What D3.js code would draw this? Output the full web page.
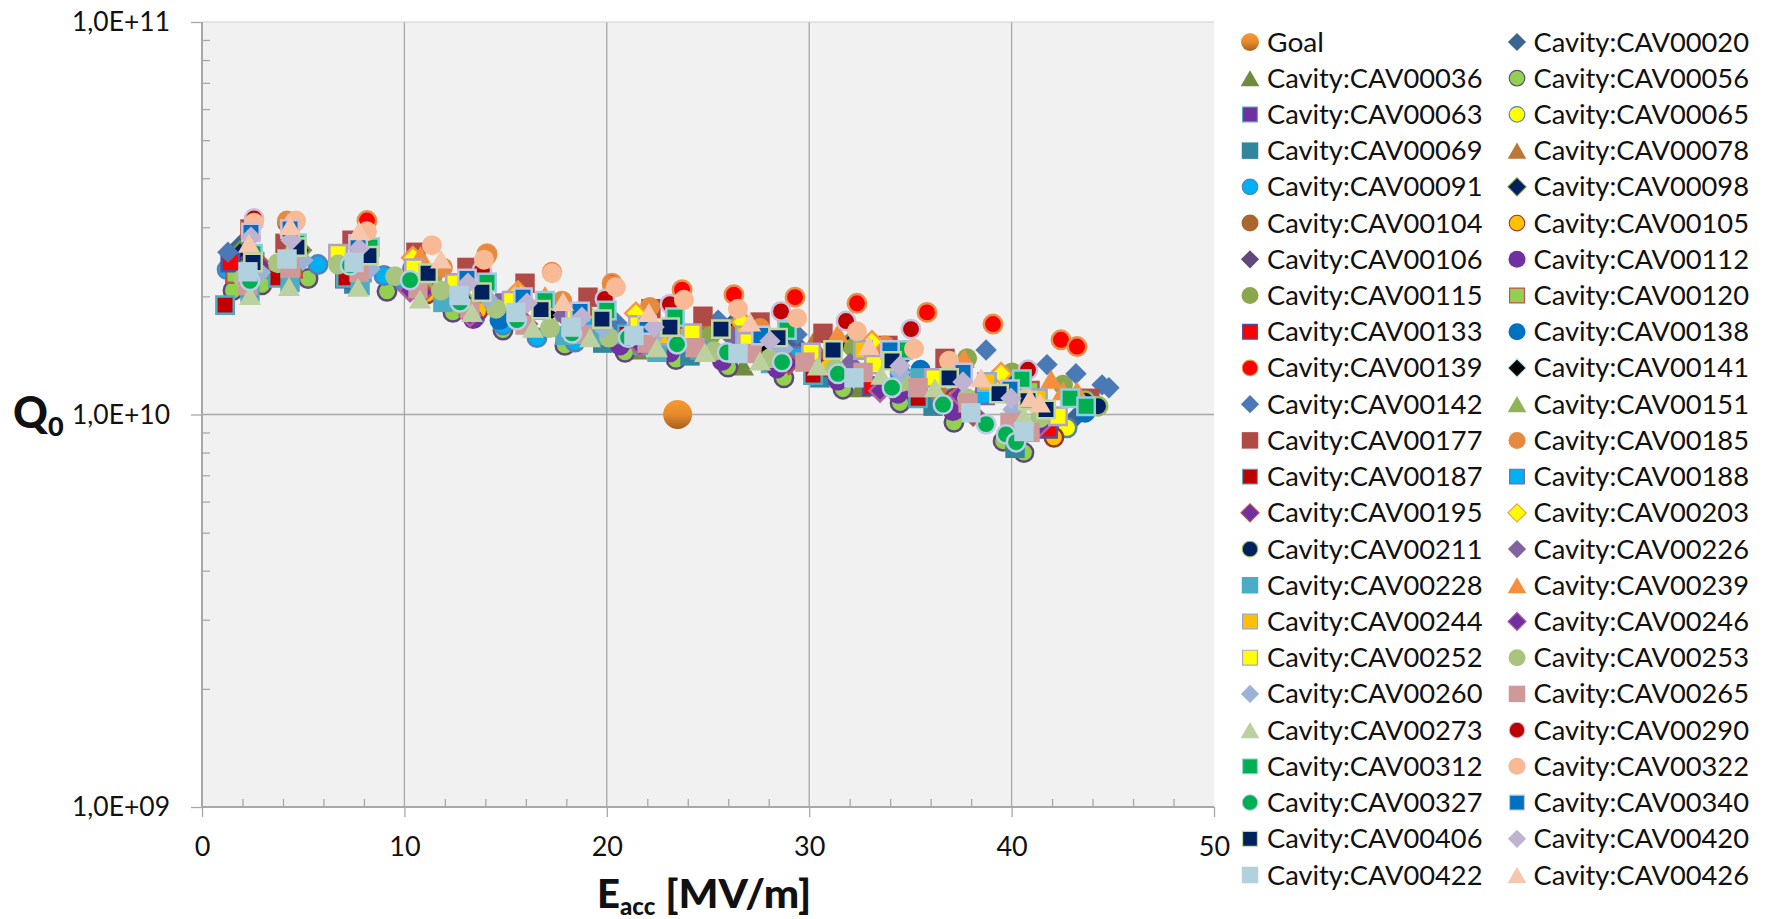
<!DOCTYPE html>
<html><head><meta charset="utf-8">
<script src="https://cdn.jsdelivr.net/npm/d3@7/dist/d3.min.js"></script>
<style>html,body{margin:0;padding:0;background:#fff}svg{display:block}text{font-family:Lato,"Open Sans",sans-serif;fill:#111}</style>
</head><body><svg id="c" width="1765" height="919"></svg>
<script>
// x = Eacc [MV/m], y = Q0 in units of 1e10
const Goal=[[23.5,1.0]];
const CAV00020=[[1.88,2.7],[20.31,1.74],[26.2,1.7],[29.3,1.52],[34.6,1.4],[43.13,0.98]];
const CAV00036=[[2.2,2.6],[3.21,2.33],[12.9,1.95],[21.49,1.46],[26.73,1.33],[32.51,1.17],[40.3,1.05]];
const CAV00056=[[1.53,2.07],[2.96,2.14],[5.24,2.22],[9.14,2.06],[12.4,1.82],[14.87,1.64],[17.93,1.5],[20.9,1.44],[23.42,1.38],[25.99,1.32],[28.75,1.24],[31.67,1.16],[34.49,1.07],[37.15,0.955],[39.58,0.855],[40.61,0.8]];
const CAV00063=[[2.6,2.45],[7.9,2.3],[15.2,1.75],[21.8,1.5],[28.1,1.35],[36.9,1.1]];
const CAV00065=[[10.4,2.35],[19.3,1.7],[30.9,1.33],[42.74,0.925]];
const CAV00069=[[7.5,2.15],[19.8,1.52],[24.11,1.41],[30.53,1.24],[36.12,1.05],[40.17,0.82]];
const CAV00078=[[2.5,2.62],[13.6,2.0],[24.9,1.72],[30.19,1.53],[36.56,1.15]];
const CAV00091=[[1.24,2.34],[5.73,2.41],[8.99,2.26],[10.03,2.16],[13.49,1.77],[14.87,1.69],[16.55,1.57],[18.43,1.53],[34.49,1.27]];
const CAV00098=[[1.88,2.59],[4.84,2.62],[16.9,1.85],[26.18,1.64],[31.97,1.51]];
const CAV00104=[[4.2,3.08],[18.9,1.8],[26.4,1.6],[31.0,1.4],[33.7,1.45]];
const CAV00105=[[11.12,2.03],[13.64,1.84],[30.93,1.32],[37.2,1.1],[42.09,0.875]];
const CAV00106=[[2.4,2.5],[10.4,2.2],[21.4,1.65],[28.3,1.5],[33.5,1.4]];
const CAV00112=[[10.7,2.07],[13.4,1.75],[20.65,1.5],[23.12,1.44],[25.69,1.37],[28.41,1.31],[31.42,1.22],[34.39,1.13],[37.1,1.02]];
const CAV00115=[[8.0,2.45],[11.4,2.25],[17.3,1.8],[25.1,1.58],[32.2,1.48],[37.8,1.39],[40.02,1.28],[42.54,1.19]];
const CAV00120=[[1.63,2.28],[4.5,2.35],[11.0,2.15],[24.0,1.58],[40.9,1.15]];
const CAV00133=[[1.4,2.44],[7.07,2.22],[19.2,1.65],[33.1,1.18],[41.8,0.92]];
const CAV00138=[[14.7,1.74],[27.9,1.55],[35.5,1.3],[39.92,1.19],[43.63,1.01]];
const CAV00139=[[8.15,3.12],[14.08,2.57],[20.26,2.16],[23.72,2.08],[26.28,2.02],[29.3,1.99],[32.36,1.92],[35.82,1.82],[39.08,1.7],[42.44,1.55],[43.23,1.49]];
const CAV00141=[[4.3,2.65],[17.1,1.8],[27.9,1.45],[33.4,1.4]];
const CAV00142=[[1.28,2.59],[20.5,1.71],[25.5,1.74],[29.4,1.6],[38.74,1.46],[41.75,1.34],[43.18,1.27],[44.47,1.19],[44.81,1.17]];
const CAV00151=[[3.11,2.35],[11.0,2.19],[16.7,1.84],[28.9,1.46],[38.3,1.12]];
const CAV00177=[[2.37,2.97],[4.1,2.73],[7.41,2.78],[10.57,2.59],[13.09,2.37],[15.96,2.16],[19.07,1.99],[22.18,1.86],[24.75,1.78],[27.57,1.72],[30.68,1.61],[33.89,1.5],[36.71,1.39],[43.87,1.1]];
const CAV00185=[[4.2,3.12],[11.9,2.37],[14.08,2.54],[17.29,2.31],[17.79,1.95],[20.26,2.13],[22.13,1.88],[27.57,1.66],[33.74,1.5]];
const CAV00187=[[1.14,1.9],[3.75,2.23],[7.11,2.23],[21.0,1.6],[30.19,1.26],[35.38,1.1]];
const CAV00188=[[12.5,2.16],[14.97,1.92],[18.9,1.69],[29.45,1.41],[38.69,1.12]];
const CAV00195=[[2.9,2.4],[10.9,2.05],[16.0,1.7],[22.9,1.55],[29.0,1.35],[38.1,1.0]];
const CAV00203=[[10.42,2.51],[15.61,2.05],[21.44,1.81],[26.68,1.72],[33.1,1.53],[39.48,1.27]];
const CAV00211=[[4.6,2.6],[12.9,1.95],[22.6,1.55],[37.45,1.3],[43.63,1.085],[44.27,1.05]];
const CAV00226=[[11.9,2.05],[14.7,1.9],[17.84,1.79],[26.23,1.56],[32.02,1.35]];
const CAV00228=[[2.37,2.05],[4.35,2.17],[7.81,2.13],[11.9,1.93],[17.93,1.59],[19.76,1.59],[22.48,1.44],[24.6,1.46],[35.47,1.24]];
const CAV00239=[[10.8,2.54],[15.6,2.05],[16.95,2.01],[31.42,1.61],[37.65,1.39],[41.95,1.23],[42.54,1.15],[43.23,1.15]];
const CAV00244=[[22.6,1.59],[26.83,1.59],[32.66,1.46],[38.78,1.21],[41.3,1.1]];
const CAV00246=[[10.28,2.07],[13.24,1.79],[21.64,1.5],[24.6,1.46],[33.5,1.15],[37.45,1.12],[41.4,0.94]];
const CAV00252=[[6.72,2.57],[10.47,2.36],[12.5,2.16],[15.3,1.95],[18.43,1.79],[21.54,1.69],[24.21,1.61],[26.98,1.53],[30.09,1.44],[33.2,1.34],[36.17,1.24],[42.29,0.99]];
const CAV00253=[[2.03,2.22],[3.75,2.43],[6.72,2.41],[9.54,2.25],[11.81,2.07],[14.53,1.86],[17.19,1.66],[20.11,1.57],[25.3,1.45],[28.06,1.39],[31.27,1.31],[34.58,1.21],[37.8,1.1],[41.4,0.98]];
const CAV00260=[[2.87,2.3],[4.99,2.47],[8.3,2.35],[14.08,1.98],[19.81,1.66],[22.38,1.59],[28.71,1.47],[34.49,1.28],[40.07,1.03]];
const CAV00265=[[2.27,2.13],[4.35,2.36],[7.76,2.3],[10.67,2.09],[13.24,1.86],[15.96,1.69],[18.82,1.6],[21.99,1.52],[24.36,1.48],[27.17,1.43],[29.79,1.36],[32.66,1.28],[35.38,1.17],[37.85,1.07],[39.92,0.955],[40.91,0.9]];
const CAV00273=[[2.37,2.01],[4.3,2.12],[7.71,2.11],[10.77,1.97],[13.34,1.82],[16.35,1.66],[19.17,1.57],[22.48,1.48],[24.85,1.44],[27.57,1.37],[30.43,1.33],[33.55,1.26],[36.21,1.17],[40.61,0.99]];
const CAV00290=[[2.57,3.16],[4.6,3.1],[13.83,2.33],[19.91,1.97],[23.12,1.91],[28.61,1.83],[31.82,1.73],[35.03,1.65],[40.81,1.3]];
const CAV00312=[[2.52,2.57],[4.69,2.73],[8.3,2.67],[14.08,2.17],[16.95,1.95],[20.0,1.84],[23.37,1.77],[28.9,1.64],[34.63,1.46],[40.51,1.23],[42.89,1.1],[43.68,1.05]];
const CAV00322=[[2.57,3.08],[4.64,3.12],[8.15,2.93],[11.36,2.7],[13.93,2.48],[17.29,2.29],[20.45,2.11],[23.81,1.96],[26.48,1.86],[29.4,1.76],[32.36,1.63],[35.18,1.47],[36.91,1.37],[39.92,1.15],[40.7,1.1]];
const CAV00327=[[2.37,2.19],[7.31,2.4],[10.28,2.2],[12.75,1.93],[15.56,1.74],[18.28,1.61],[21.05,1.57],[23.47,1.51],[25.94,1.44],[28.66,1.36],[31.42,1.27],[34.09,1.17],[36.61,1.06],[38.74,0.945],[39.72,0.89],[40.22,0.85]];
const CAV00340=[[2.42,2.91],[4.35,2.97],[7.71,2.72],[13.09,2.22],[15.86,1.99],[18.68,1.83],[21.99,1.69],[27.62,1.59],[33.99,1.46],[37.6,1.28],[39.92,1.16]];
const CAV00406=[[2.52,2.44],[4.69,2.67],[8.25,2.54],[11.17,2.29],[13.83,2.05],[16.75,1.85],[19.76,1.75],[23.12,1.67],[25.64,1.65],[28.46,1.57],[31.18,1.46],[34.09,1.37],[36.91,1.24],[39.38,1.13],[40.81,1.085],[41.7,1.03]];
const CAV00420=[[2.42,2.83],[4.4,2.78],[7.76,2.65],[13.14,2.16],[16.06,1.92],[18.77,1.77],[22.33,1.67],[28.06,1.54],[34.49,1.33],[37.6,1.21],[39.97,1.1]];
const CAV00422=[[2.27,2.31],[4.2,2.49],[7.51,2.44],[12.7,2.01],[15.51,1.82],[18.23,1.67],[21.34,1.59],[26.48,1.43],[32.21,1.24],[37.99,1.01],[40.61,0.905]];
const CAV00426=[[2.32,2.73],[4.35,3.03],[7.76,2.94],[11.81,2.49],[17.84,1.94],[22.08,1.82],[27.08,1.72],[32.95,1.5],[38.49,1.24],[40.91,1.1],[41.4,1.07]];

const seriesPoints=[Goal,CAV00020,CAV00036,CAV00056,CAV00063,CAV00065,CAV00069,CAV00078,CAV00091,CAV00098,CAV00104,CAV00105,CAV00106,CAV00112,CAV00115,CAV00120,CAV00133,CAV00138,CAV00139,CAV00141,CAV00142,CAV00151,CAV00177,CAV00185,CAV00187,CAV00188,CAV00195,CAV00203,CAV00211,CAV00226,CAV00228,CAV00239,CAV00244,CAV00246,CAV00252,CAV00253,CAV00260,CAV00265,CAV00273,CAV00290,CAV00312,CAV00322,CAV00327,CAV00340,CAV00406,CAV00420,CAV00422,CAV00426];
const seriesNames=["Goal","Cavity:CAV00020","Cavity:CAV00036","Cavity:CAV00056","Cavity:CAV00063","Cavity:CAV00065","Cavity:CAV00069","Cavity:CAV00078","Cavity:CAV00091","Cavity:CAV00098","Cavity:CAV00104","Cavity:CAV00105","Cavity:CAV00106","Cavity:CAV00112","Cavity:CAV00115","Cavity:CAV00120","Cavity:CAV00133","Cavity:CAV00138","Cavity:CAV00139","Cavity:CAV00141","Cavity:CAV00142","Cavity:CAV00151","Cavity:CAV00177","Cavity:CAV00185","Cavity:CAV00187","Cavity:CAV00188","Cavity:CAV00195","Cavity:CAV00203","Cavity:CAV00211","Cavity:CAV00226","Cavity:CAV00228","Cavity:CAV00239","Cavity:CAV00244","Cavity:CAV00246","Cavity:CAV00252","Cavity:CAV00253","Cavity:CAV00260","Cavity:CAV00265","Cavity:CAV00273","Cavity:CAV00290","Cavity:CAV00312","Cavity:CAV00322","Cavity:CAV00327","Cavity:CAV00340","Cavity:CAV00406","Cavity:CAV00420","Cavity:CAV00422","Cavity:CAV00426"];
const seriesShapes=["o","d","t","o","s","o","s","t","o","d","o","o","d","o","o","s","s","o","o","d","d","t","s","o","s","s","d","d","o","d","s","t","s","d","s","o","d","s","t","o","s","o","o","s","s","d","s","t"];
const seriesFills=["url(#goal)","#3C6592","#6F8B3D","#92D050","#7030A0","#FFFF00","#31859C","#BC7635","#00B0F0","#002060","#A9672F","#FFC000","#60497A","#7030A0","#8AA84B","#92D050","#FF0000","#0070C0","#FF0000","#000000","#4A7AB5","#8FB356","#B04A47","#E68A40","#C00000","#00B0F0","#7030A0","#FFFF00","#002060","#8064A2","#4BACC6","#F58F3F","#FFC000","#7030A0","#FFFF00","#A9C47F","#9CB3D8","#D09999","#BDD0A0","#C00000","#00B050","#F8B995","#00B050","#0070C0","#002060","#BFB3D2","#B2D1DE","#F6C6AD"];
const seriesStrokes=["none","none","none","#5F497A","#4BACC6","#4F81BD","none","none","#4F81BD","#76933C","none","#953735","none","none","none","#C0504D","#4F4FA0","none","#E9904A","#B7DEE8","none","none","none","none","#4BACC6","#8064A2","#C0504D","#F79646","#9BBB59","none","none","none","#8EA9DB","#B65FA0","#B2A1C7","none","none","none","none","#CCC1DA","#93CDDD","none","#B9CDE5","#CCC1DA","#C3D69B","none","none","none"];
const xMajor=[0,10,20,30,40,50];
const xMinor=[2,4,6,8,12,14,16,18,22,24,26,28,32,34,36,38,42,44,46,48];
const yMajor=[1e9,1e10,1e11];
const yMinor=[2e9,3e9,4e9,5e9,6e9,7e9,8e9,9e9,2e10,3e10,4e10,5e10,6e10,7e10,8e10,9e10];

const svg=d3.select("#c");
const defs=svg.append("defs");
const g=defs.append("linearGradient").attr("id","goal").attr("x1",0).attr("y1",0).attr("x2",0).attr("y2",1);
g.append("stop").attr("offset","0").attr("stop-color","#F79A32");
g.append("stop").attr("offset","0.5").attr("stop-color","#E68A2C");
g.append("stop").attr("offset","1").attr("stop-color","#A5601E");

const L=202,R=1214,T=22,B=807;
const x=d3.scaleLinear().domain([0,50]).range([L,R]);
const y=d3.scaleLog().domain([1e9,1e11]).range([B,T]);
const axisCol="#a8a8a8";

svg.append("rect").attr("x",L).attr("y",T).attr("width",R-L).attr("height",B-T).attr("fill","#f1f1f1");

// grid
svg.append("g").selectAll("line").data(xMajor.slice(1,5)).join("line")
 .attr("x1",d=>x(d)).attr("x2",d=>x(d)).attr("y1",T).attr("y2",B).attr("stroke",axisCol).attr("stroke-width",1.3);
svg.append("line").attr("x1",L).attr("x2",R).attr("y1",y(1e10)).attr("y2",y(1e10)).attr("stroke",axisCol).attr("stroke-width",1.3);
svg.append("line").attr("x1",L).attr("x2",R).attr("y1",y(1e11)).attr("y2",y(1e11)).attr("stroke","#cfcfcf").attr("stroke-width",1);

function style(sel,fs){sel.select(".domain").remove();sel.selectAll("line").attr("stroke",axisCol).attr("stroke-width",1.3);sel.selectAll("text").style("font-size",fs+"px").attr("fill","#111");}
// x axis
const xaM=svg.append("g").attr("transform",`translate(0,${B})`).call(d3.axisBottom(x).tickValues(xMajor).tickSize(10).tickPadding(20).tickFormat(d3.format("d")));
style(xaM,27);
const xam=svg.append("g").attr("transform",`translate(0,${B})`).call(d3.axisTop(x).tickValues(xMinor).tickSize(8).tickFormat(""));
style(xam,10);
// y axis
const fmtY=d=>"1,0E+"+String(Math.round(Math.log10(d))).padStart(2,"0");
const yaM=svg.append("g").attr("transform",`translate(${L},0)`).call(d3.axisLeft(y).tickValues(yMajor).tickSize(11).tickPadding(21).tickFormat(fmtY));
style(yaM,27);
yaM.selectAll("text").attr("textLength",98).attr("lengthAdjust","spacingAndGlyphs");
const yam=svg.append("g").attr("transform",`translate(${L},0)`).call(d3.axisRight(y).tickValues(yMinor).tickSize(8).tickFormat(""));
style(yam,10);
svg.append("line").attr("x1",L).attr("x2",L).attr("y1",T).attr("y2",B).attr("stroke",axisCol).attr("stroke-width",2);
svg.append("line").attr("x1",L).attr("x2",R).attr("y1",B).attr("y2",B).attr("stroke",axisCol).attr("stroke-width",2);

// markers
const gens={
 o:s=>d3.symbol(d3.symbolCircle,Math.PI*s*s/4)(),
 s:s=>d3.symbol(d3.symbolSquare,s*s)(),
 d:s=>d3.symbol(d3.symbolSquare,s*s/2)(),
 t:s=>d3.symbol(d3.symbolTriangle,Math.sqrt(3)/4*s*s)()
};
function marker(parent,shape,fill,stroke,size,px,py,sw){
 let s=size, tf=`translate(${px},${py})`;
 if(shape==="t"){s=size*1.1;tf=`translate(${px},${py+s*0.145})`;}
 if(shape==="d"){s=size*1.07;tf+=" rotate(45)";}
 if(shape==="s"){s=stroke==="none"?size*0.97:size*0.87;}
 if(shape==="o"&&stroke!=="none")s=size*0.92;
 parent.append("path").attr("d",gens[shape](s)).attr("transform",tf).attr("fill",fill)
  .attr("stroke",stroke).attr("stroke-width",stroke==="none"?0:sw);
}
const plot=svg.append("g");
seriesPoints.forEach((pts,i)=>{
 const sz=i===0?29:20;
 const gs=plot.append("g").attr("class","series");
 pts.forEach(p=>marker(gs,seriesShapes[i],seriesFills[i],seriesStrokes[i],sz,x(p[0]),y(p[1]*1e10),2.5));
});

// legend
const rows=24,colX=[1250,1517],txtX=[1267,1533.5],y0=42,dy=(875-42)/23;
seriesNames.forEach((n,i)=>{
 const c=i%2,r=Math.floor(i/2),py=y0+r*dy;
 const lg=svg.append("g");
 marker(lg,seriesShapes[i],seriesFills[i],seriesStrokes[i],i===0?18:17,colX[c],py,1.1);
 const t=lg.append("text").attr("x",txtX[c]).attr("y",py+9.5).style("font-size","26.5px").attr("fill","#111").text(n);
 if(i>0)t.attr("textLength",215.5).attr("lengthAdjust","spacingAndGlyphs");
 else t.attr("textLength",57).attr("lengthAdjust","spacingAndGlyphs");
});

// axis titles
const q=svg.append("text").attr("x",13).attr("y",428).style("font-weight","900").style("font-size","43px").text("Q");
q.append("tspan").attr("dy",8).style("font-size","27px").text("0");
const e=svg.append("text").attr("x",597).attr("y",908).style("font-weight","900").style("font-size","40px").text("E");
e.append("tspan").attr("dy",7).style("font-size","24px").text("acc");
e.append("tspan").attr("dy",-7).attr("dx",10).attr("textLength",146).attr("lengthAdjust","spacingAndGlyphs").text("[MV/m]");
</script></body></html>
